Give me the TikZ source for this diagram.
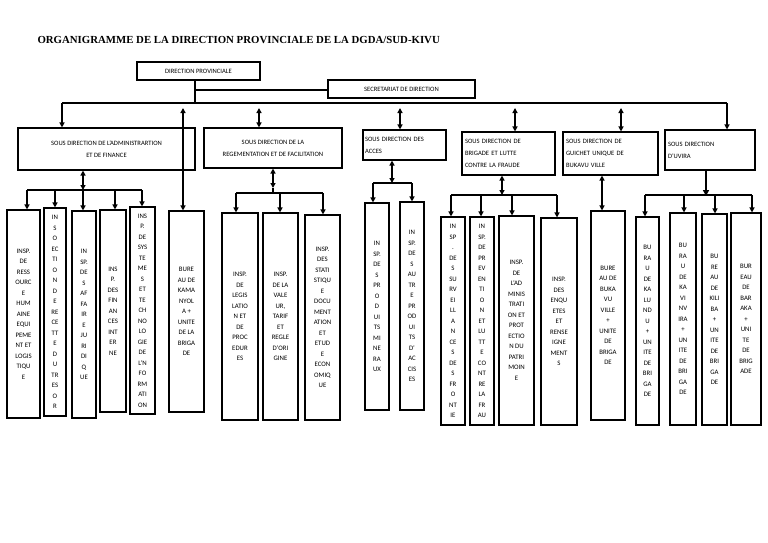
\documentclass[tikz,border=0pt]{standalone}
\usepackage{fontspec}
\setmainfont{Carlito}
\newfontfamily\titlefont{Liberation Serif}
\usetikzlibrary{arrows.meta}
\begin{document}
\begin{tikzpicture}[x=1pt,y=-1pt,
  box/.style={draw,line width=1.1pt,inner sep=0pt,align=center,font=\fontsize{6.8}{10.5}\selectfont},
  hbox/.style={box,font=\fontsize{6.6}{12}\selectfont},
  ln/.style={line width=1.5pt},
  ar/.style={ln,-{Triangle[length=5pt,width=5pt]}},
  dar/.style={ln,{Triangle[length=5pt,width=5pt]}-{Triangle[length=5pt,width=5pt]}}]
\newcommand\bx[7][box]{\node[#1,minimum width={(#5-#3)*1pt},minimum height={(#6-#4)*1pt}] (#2) at ({(#3+#5)/2},{(#4+#6)/2}) {#7};}
\useasboundingbox[fill=white] (0,0) rectangle (768,543);
\node[anchor=west,font=\titlefont\bfseries\fontsize{10.8}{12}\selectfont] (title) at (34,40) {ORGANIGRAMME DE LA DIRECTION PROVINCIALE DE LA DGDA/SUD-KIVU};
\bx[hbox]{dp}{137}{62}{260}{80}{DIRECTION PROVINCIALE}
\bx[hbox]{sec}{328}{80}{475}{98}{SECRETARIAT DE DIRECTION}
\bx[hbox]{s1}{18}{128}{195}{170}{SOUS DIRECTION DE L'ADMINISTRARTION\\ET DE FINANCE}
\bx[hbox]{s2}{204}{128}{342}{168}{SOUS DIRECTION DE LA\\REGEMENTATION ET DE FACILITATION}
\node[hbox,align=left,minimum width=83pt,minimum height=30pt,text width=79pt] (s3) at (404.5,145) {SOUS DIRECTION DES\\ACCES};
\node[hbox,align=left,minimum width=93pt,minimum height=43pt,text width=87pt] (s4) at (508.5,153.5) {SOUS DIRECTION DE\\BRIGADE ET LUTTE\\CONTRE LA FRAUDE};
\node[hbox,align=left,minimum width=95pt,minimum height=43pt,text width=89pt] (s5) at (610.5,153.5) {SOUS DIRECTION DE\\GUICHET UNIQUE DE\\BUKAVU VILLE};
\node[hbox,align=left,minimum width=90pt,minimum height=40pt,text width=84pt] (s6) at (710,150) {SOUS DIRECTION\\D'UVIRA};
% top connectors
\coordinate (t0) at (195,103);
\draw[ln] (dp.south -| t0) -- (t0);
\draw[ln] (195,90) coordinate (t1) -- (sec.west |- t1);
\draw[ln] (62,103) coordinate (bl) -- (727,103) coordinate (br);
\draw[ar] (bl) -- (bl |- s1.north);
\draw[ar] (br) -- (br |- s6.north);
% group 1
\bx{a1}{7}{210}{40}{418}{INSP.\\DE\\RESS\\OURC\\E\\HUM\\AINE\\EQUI\\PEME\\NT ET\\LOGIS\\TIQU\\E}
\bx{a2}{44}{208}{66}{416}{IN\\S\\O\\EC\\TI\\O\\N\\D\\E\\RE\\CE\\TT\\E\\D\\U\\TR\\ES\\O\\R}
\bx{a3}{72}{211}{96}{418}{IN\\SP.\\DE\\S\\AF\\FA\\IR\\E\\JU\\RI\\DI\\Q\\UE}
\bx{a4}{100}{210}{126}{412}{INS\\P.\\DES\\FIN\\AN\\CES\\INT\\ER\\NE}
\bx{a5}{130}{207}{155}{414}{INS\\P.\\DE\\SYS\\TE\\ME\\S\\ET\\TE\\CH\\NO\\LO\\GIE\\DE\\L'N\\FO\\RM\\ATI\\ON}
\bx{kam}{169}{211}{204}{412}{BURE\\AU DE\\KAMA\\NYOL\\A +\\UNITE\\DE LA\\BRIGA\\DE}
\draw[dar] (183,108) coordinate (k1) -- (k1 |- kam.north);
\draw[dar] (s1.south -| 83,0) -- (83,190) coordinate (g1);
\draw[ln] (27,190) -- (142,190);
\foreach \x/\n in {27/a1,55/a2,83/a3,115/a4,142/a5} \draw[ar] (\x,190) -- (\x,190 |- \n.north);
% group 2
\draw[dar] (259,108) coordinate (u2) -- (u2 |- s2.north);
\bx{b1}{222}{213}{258}{420}{INSP.\\DE\\LEGIS\\LATIO\\N ET\\DE\\PROC\\EDUR\\ES}
\bx{b2}{263}{213}{298}{420}{INSP.\\DE LA\\VALE\\UR,\\TARIF\\ET\\REGLE\\D'ORI\\GINE}
\bx{b3}{305}{215}{340}{420}{INSP.\\DES\\STATI\\STIQU\\E\\DOCU\\MENT\\ATION\\ET\\ETUD\\E\\ECON\\OMIQ\\UE}
\draw[dar] (s2.south -| 273,0) -- (273,188);
\draw[ln] (273,188) -- (273,193) (236,193) -- (323,193);
\foreach \x/\n in {236/b1,280/b2,323/b3} \draw[ar] (\x,193) -- (\x,193 |- \n.north);
% group 3
\draw[dar] (400,108) coordinate (u3) -- (u3 |- s3.north);
\bx{c1}{365}{203}{389}{410}{IN\\SP.\\DE\\S\\PR\\O\\D\\UI\\TS\\MI\\NE\\RA\\UX}
\bx{c2}{400}{202}{424}{410}{IN\\SP.\\DE\\S\\AU\\TR\\E\\PR\\OD\\UI\\TS\\D'\\AC\\CIS\\ES}
\draw[dar] (s3.south -| 392,0) -- (392,183);
\draw[ln] (373,183) -- (412,183);
\foreach \x/\n in {373/c1,412/c2} \draw[ar] (\x,183) -- (\x,183 |- \n.north);
% group 4
\draw[dar] (515,108) coordinate (u4) -- (u4 |- s4.north);
\bx{d1}{441}{217}{465}{425}{IN\\SP\\.\\DE\\S\\SU\\RV\\EI\\LL\\A\\N\\CE\\S\\DE\\S\\FR\\O\\NT\\IE}
\bx{d2}{470}{217}{494}{425}{IN\\SP.\\DE\\PR\\EV\\EN\\TI\\O\\N\\ET\\LU\\TT\\E\\CO\\NT\\RE\\LA\\FR\\AU}
\bx{d3}{499}{216}{534}{425}{INSP.\\DE\\L'AD\\MINIS\\TRATI\\ON ET\\PROT\\ECTIO\\N DU\\PATRI\\MOIN\\E}
\bx{d4}{541}{218}{577}{425}{INSP.\\DES\\ENQU\\ETES\\ET\\RENSE\\IGNE\\MENT\\S}
\draw[dar] (s4.south -| 502,0) -- (502,195);
\draw[ln] (451,195) -- (557,195);
\foreach \x/\n in {451/d1,481/d2,512/d3,557/d4} \draw[ar] (\x,195) -- (\x,195 |- \n.north);
% group 5
\draw[dar] (621,108) coordinate (u5) -- (u5 |- s5.north);
\bx{e1}{591}{211}{625}{420}{BURE\\AU DE\\BUKA\\VU\\VILLE\\+\\UNITE\\DE\\BRIGA\\DE}
\draw[dar] (s5.south -| 602,0) -- (602,0 |- e1.north);
% group 6
\bx{f1}{636}{217}{659}{425}{BU\\RA\\U\\DE\\KA\\LU\\ND\\U\\+\\UN\\ITE\\DE\\BRI\\GA\\DE}
\bx{f2}{670}{213}{696}{425}{BU\\RA\\U\\DE\\KA\\VI\\NV\\IRA\\+\\UN\\ITE\\DE\\BRI\\GA\\DE}
\bx{f3}{702}{214}{727}{425}{BU\\RE\\AU\\DE\\KILI\\BA\\+\\UN\\ITE\\DE\\BRI\\GA\\DE}
\bx{f4}{731}{213}{761}{425}{BUR\\EAU\\DE\\BAR\\AKA\\+\\UNI\\TE\\DE\\BRIG\\ADE}
\draw[line width=2.8pt,-{Triangle[length=6pt,width=6pt]}] (s6.south -| 706,0) -- (706,196);
\draw[ln] (645,195) -- (752,195);
\foreach \x/\n in {645/f1,684/f2,715/f3,752/f4} \draw[ar] (\x,195) -- (\x,195 |- \n.north);
\end{tikzpicture}
\end{document}
